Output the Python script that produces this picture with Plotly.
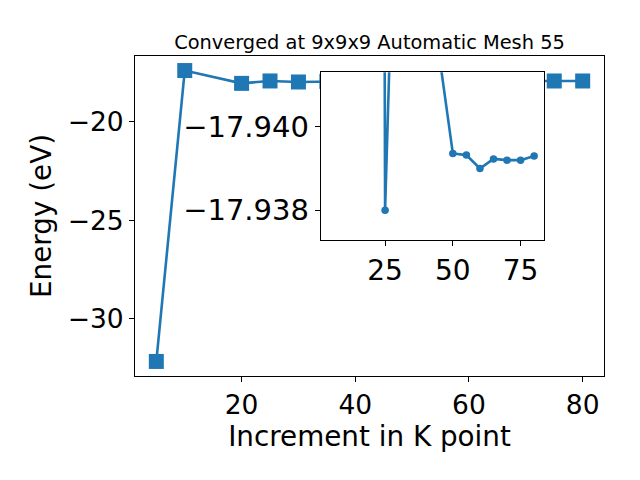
import plotly.graph_objects as go

# Data
kpoints = [5, 10, 20, 25, 30, 35, 40, 45, 50, 55, 60, 65, 70, 75, 80]
energy = [-32.16, -17.41, -18.06, -17.938, -17.99, -17.96, -17.95, -17.9417,
          -17.93936, -17.93932, -17.93900, -17.93923, -17.93920, -17.93920, -17.93930]
inset_start = 2  # inset shows points from k = 20 onwards

main_xticks = [20, 40, 60, 80]
main_yticks = [-20, -25, -30]
inset_xticks = [25, 50, 75]
inset_yticks = [-17.940, -17.938]

title_text = "Converged at 9x9x9 Automatic Mesh 55"
xlabel = "Increment in K point"
ylabel = "Energy (eV)"

blue = "#1f77b4"
font_family = "DejaVu Sans"

xmin, xmax = min(kpoints), max(kpoints)
xpad = 0.05 * (xmax - xmin)
x_range = [xmin - xpad, xmax + xpad]
ymin, ymax = min(energy), max(energy)
ypad = 0.05 * (ymax - ymin)
y_range = [ymin - ypad, ymax + ypad]

inset_y_range = [-17.93729, -17.94130]  # reversed (top is more negative)

fig = go.Figure()

fig.add_trace(go.Scatter(
    x=kpoints, y=energy, mode="lines+markers",
    line=dict(color=blue, width=2.6),
    marker=dict(symbol="square", size=15, color=blue, line=dict(width=0)),
    xaxis="x", yaxis="y", showlegend=False, cliponaxis=False,
))

fig.add_trace(go.Scatter(
    x=kpoints[inset_start:], y=energy[inset_start:], mode="lines+markers",
    line=dict(color=blue, width=2.6),
    marker=dict(symbol="circle", size=7.5, color=blue),
    xaxis="x2", yaxis="y2", showlegend=False,
))

axis_common = dict(showline=True, mirror=True, linecolor="black", linewidth=1,
                   ticks="outside", ticklen=5, tickwidth=1, tickcolor="black",
                   showgrid=False, zeroline=False, automargin=False)

# page body has an 8px margin; figure is sized/offset to compensate
fig.update_layout(
    width=624, height=464,
    margin=dict(l=127, r=28, t=48, b=96),
    paper_bgcolor="white", plot_bgcolor="white",
    font=dict(family=font_family, color="black"),
    title=dict(text=title_text, x=0.5, xref="paper", y=1 - 34 / 464,
               yref="container", yanchor="middle", xanchor="center",
               font=dict(size=19.4, family=font_family, color="black")),
    xaxis=dict(domain=[0, 1], range=x_range, tickvals=main_xticks,
               tickfont=dict(size=26.5), title=dict(text=xlabel, font=dict(size=27.8), standoff=3),
               **axis_common),
    yaxis=dict(domain=[0, 1], range=y_range, tickvals=main_yticks,
               tickfont=dict(size=26.5), title=dict(text=ylabel, font=dict(size=27.8), standoff=8),
               **axis_common),
    xaxis2=dict(domain=[0.396, 0.8727], anchor="y2", range=x_range, tickvals=inset_xticks,
                tickfont=dict(size=28), **axis_common),
    yaxis2=dict(domain=[0.425, 0.949], anchor="x2", range=inset_y_range, tickvals=inset_yticks,
                tickformat=".3f", tickfont=dict(size=29), **axis_common),
)

# White background for the inset, drawn in the inset subplot below its trace
fig.add_shape(type="rect", xref="x2", yref="y2",
              x0=x_range[0], x1=x_range[1], y0=inset_y_range[0], y1=inset_y_range[1],
              fillcolor="white", line=dict(width=0), layer="below")

fig.write_html("out.html")
